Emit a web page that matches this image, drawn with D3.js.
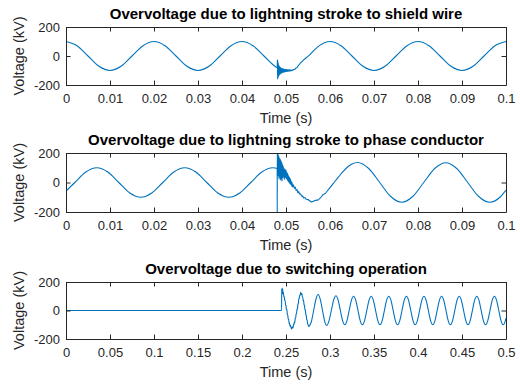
<!DOCTYPE html>
<html>
<head>
<meta charset="utf-8">
<script src="https://cdn.jsdelivr.net/npm/d3@7"></script>
<style>
    body { margin: 0; background: #fff; }
    svg { display: block; font-family: Arial, 'Liberation Sans', sans-serif; }
</style>
</head>
<body>
<svg id="figura"></svg>
<script>
// titulos e rotulos
const titulos = [
    'Overvoltage due to lightning stroke to shield wire',
    'Overvoltage due to lightning stroke to phase conductor',
    'Overvoltage due to switching operation'
]
const rotuloX = 'Time (s)'
const rotuloY = 'Voltage (kV)'

// ticks
const ticksY = [-200, 0, 200]
const ticksRaio = [0, 0.01, 0.02, 0.03, 0.04, 0.05, 0.06, 0.07, 0.08, 0.09, 0.1]
const ticksManobra = [0, 0.05, 0.1, 0.15, 0.2, 0.25, 0.3, 0.35, 0.4, 0.45, 0.5]

// [tempo (s), tensao (kV)]
const cabo = [
    [0, 100], [0.0025, 71], [0.005, 0], [0.0075, -71], [0.01, -100], [0.0125, -71], [0.015, 0], [0.0175, 71],
    [0.02, 100], [0.0225, 71], [0.025, 0], [0.0275, -71], [0.03, -100], [0.0325, -71], [0.035, 0], [0.0375, 71],
    [0.04, 100], [0.0425, 71], [0.045, 0], [0.0475, -71], [0.048, -81],
    [0.04805, -25], [0.0481, -160], [0.04815, -35], [0.0482, -150], [0.04825, -50], [0.0483, -142], [0.04835, -62],
    [0.0484, -135], [0.04845, -70], [0.0485, -130], [0.0486, -75], [0.0487, -125], [0.0488, -80], [0.0489, -120],
    [0.049, -84], [0.0491, -117], [0.0492, -87], [0.0493, -114], [0.0494, -89], [0.0495, -112], [0.0496, -91],
    [0.0497, -110], [0.0498, -92], [0.0499, -108], [0.05, -93], [0.0501, -107], [0.0502, -94], [0.0503, -106],
    [0.0504, -95], [0.0505, -105], [0.0506, -95], [0.0507, -104], [0.0508, -96], [0.0509, -103], [0.051, -97],
    [0.0511, -102], [0.0512, -97], [0.0513, -101], [0.0514, -96], [0.0516, -98], [0.0518, -92], [0.052, -93],
    [0.0522, -84], [0.0525, -80], [0.0528, -66], [0.053, -60], [0.0533, -47], [0.0537, -37], [0.054, -27],
    [0.055, -3], [0.0575, 70], [0.06, 100], [0.0625, 71], [0.065, 0], [0.0675, -71], [0.07, -100], [0.0725, -71],
    [0.075, 0], [0.0775, 71], [0.08, 100], [0.0825, 71], [0.085, 0], [0.0875, -71], [0.09, -100], [0.0925, -71],
    [0.095, 0], [0.0975, 71], [0.1, 100]
]

const fase = [
    [0, -59], [0.002, 0], [0.0045, 71], [0.007, 100], [0.0095, 71], [0.012, 0], [0.0145, -71], [0.017, -100],
    [0.0195, -71], [0.022, 0], [0.0245, 71], [0.027, 100], [0.0295, 71], [0.032, 0], [0.0345, -71], [0.037, -100],
    [0.0395, -71], [0.042, 0], [0.0445, 71], [0.047, 100], [0.048, 95],
    [0.04801, -260], [0.04802, 240], [0.04808, 70], [0.04815, 195], [0.0482, 45], [0.04825, 188], [0.0483, 50],
    [0.04835, 180], [0.0484, 25], [0.04845, 170], [0.0485, 40], [0.04855, 165], [0.0486, 35], [0.04865, 160],
    [0.0487, 15], [0.04875, 155], [0.0488, 30], [0.04885, 148], [0.0489, 20], [0.04895, 142], [0.049, 35],
    [0.04905, 135], [0.0491, 10], [0.04915, 125], [0.0492, 30], [0.04925, 118], [0.0493, 40], [0.0494, 110],
    [0.0495, 30], [0.0496, 95], [0.0497, 20], [0.0498, 90], [0.0499, 35], [0.05, 85], [0.0501, 25], [0.0502, 70],
    [0.0503, 15], [0.0504, 60], [0.0505, 5], [0.0506, 45], [0.0507, 0], [0.0508, 35], [0.0509, -10], [0.051, 25],
    [0.0511, -15], [0.0512, 10], [0.0513, -25], [0.0514, 0], [0.0515, -30], [0.0517, -15], [0.0519, -40],
    [0.0521, -30], [0.0523, -55], [0.0525, -48], [0.0527, -70], [0.0529, -62], [0.0531, -80], [0.0533, -76],
    [0.0536, -95], [0.0538, -90], [0.054, -105], [0.0543, -102], [0.0546, -114], [0.055, -116], [0.0555, -127],
    [0.0558, -132], [0.0562, -127], [0.0567, -121], [0.0573, -118], [0.0578, -105], [0.0584, -83], [0.059, -72],
    [0.0596, -49], [0.0604, -20], [0.0611, 7], [0.062, 40], [0.063, 75], [0.064, 105], [0.065, 126], [0.0663, 136],
    [0.0688, 95], [0.0713, 0], [0.0738, -95], [0.0763, -134], [0.0788, -95], [0.0813, 0], [0.0838, 95],
    [0.0863, 134], [0.0888, 95], [0.0913, 0], [0.0938, -95], [0.0963, -134], [0.0988, -95], [0.1, -52]
]

const manobra = [
    [0, 0], [0.245, 0], [0.2451, 152], [0.2454, 110], [0.2457, 158], [0.246, 120], [0.2463, 148], [0.2466, 118],
    [0.247, 128], [0.2475, 100], [0.248, 96], [0.2485, 70], [0.249, 72], [0.2495, 38], [0.25, 35], [0.2505, 4],
    [0.251, 7], [0.2515, -30], [0.252, -28], [0.2525, -62], [0.253, -60], [0.2535, -92], [0.254, -86],
    [0.2545, -110], [0.255, -104], [0.2558, -122], [0.2565, -130], [0.2572, -114], [0.258, -122], [0.2585, -98],
    [0.259, -100], [0.2595, -80], [0.26, -85], [0.2605, -55], [0.261, -52], [0.2615, -22], [0.262, -22],
    [0.2625, 10], [0.263, 12], [0.2635, 42], [0.264, 48], [0.2645, 80], [0.265, 84], [0.2655, 102], [0.266, 109],
    [0.2667, 127], [0.2674, 112], [0.2681, 119], [0.2685, 96], [0.269, 96], [0.2695, 68], [0.27, 72], [0.2705, 40],
    [0.271, 38], [0.2715, 6], [0.272, 4], [0.2725, -30], [0.273, -34], [0.2735, -64], [0.274, -66], [0.2745, -92],
    [0.275, -96], [0.2755, -110], [0.2761, -112], [0.277, -104], [0.2788, -79], [0.2814, 0], [0.284, 79],
    [0.2867, 112], [0.2891, 75], [0.2915, 0], [0.2939, -74], [0.2962, -105], [0.2988, -74], [0.3015, 0],
    [0.3042, 74], [0.3068, 104],
    [0.3093, 71], [0.3118, 0], [0.3143, -71], [0.3168, -100], [0.3193, -71], [0.3218, 0], [0.3243, 71],
    [0.3268, 100], [0.3293, 71], [0.3318, 0], [0.3343, -71], [0.3368, -100], [0.3393, -71], [0.3418, 0], [0.3443, 71],
    [0.3468, 100], [0.3493, 71], [0.3518, 0], [0.3543, -71], [0.3568, -100], [0.3593, -71], [0.3618, 0], [0.3643, 71],
    [0.3668, 100], [0.3693, 71], [0.3718, 0], [0.3743, -71], [0.3768, -100], [0.3793, -71], [0.3818, 0], [0.3843, 71],
    [0.3868, 100], [0.3893, 71], [0.3918, 0], [0.3943, -71], [0.3968, -100], [0.3993, -71], [0.4018, 0], [0.4043, 71],
    [0.4068, 100], [0.4093, 71], [0.4118, 0], [0.4143, -71], [0.4168, -100], [0.4193, -71], [0.4218, 0], [0.4243, 71],
    [0.4268, 100], [0.4293, 71], [0.4318, 0], [0.4343, -71], [0.4368, -100], [0.4393, -71], [0.4418, 0], [0.4443, 71],
    [0.4468, 100], [0.4493, 71], [0.4518, 0], [0.4543, -71], [0.4568, -100], [0.4593, -71], [0.4618, 0], [0.4643, 71],
    [0.4668, 100], [0.4693, 71], [0.4718, 0], [0.4743, -71], [0.4768, -100], [0.4793, -71], [0.4818, 0], [0.4843, 71],
    [0.4868, 100], [0.4893, 71], [0.4918, 0], [0.4943, -71], [0.4968, -100], [0.4993, -71], [0.5, -54]
]

const largura = 520
const altura = 386
const corEixo = '#262626'
const corLinha = '#0072BD'

let svg = d3
    .select('#figura')
    .attr('width', largura)
    .attr('height', altura)

let margem = { esquerda: 66, direita: 506 }

function Painel(p) {
    let g = svg.append('g')

    let fnX = d3
        .scaleLinear()
        .domain([p.ticksX[0], p.ticksX[p.ticksX.length - 1]])
        .range([margem.esquerda, margem.direita])

    let fnY = d3
        .scaleLinear()
        .domain([-200, 200])
        .range([p.inferior, p.superior])

    g.append('clipPath')
        .attr('id', 'clip' + p.id)
        .append('rect')
        .attr('x', margem.esquerda)
        .attr('y', p.superior)
        .attr('width', margem.direita - margem.esquerda)
        .attr('height', p.inferior - p.superior)

    let linha = d3
        .line()
        .x((d) => fnX(d[0]))
        .y((d) => fnY(d[1]))
        .curve(d3.curveMonotoneX)

    g.append('path')
        .datum(p.dados)
        .attr('clip-path', 'url(#clip' + p.id + ')')
        .attr('fill', 'none')
        .attr('stroke', corLinha)
        .attr('stroke-width', 1.1)
        .attr('d', linha)

    let fmt = (d) => String(d)

    // eixos com ticks para dentro, estilo matlab
    let eixos = [
        { ax: d3.axisBottom(fnX).tickValues(p.ticksX).tickFormat(fmt).tickPadding(8.5), t: 'translate(0,' + p.inferior + ')' },
        { ax: d3.axisTop(fnX).tickValues(p.ticksX).tickFormat(''), t: 'translate(0,' + p.superior + ')' },
        { ax: d3.axisLeft(fnY).tickValues(ticksY).tickFormat(fmt).tickPadding(6), t: 'translate(' + margem.esquerda + ',0)' },
        { ax: d3.axisRight(fnY).tickValues(ticksY).tickFormat(''), t: 'translate(' + margem.direita + ',0)' }
    ]
    eixos.forEach((e) => {
        let a = g.append('g')
            .attr('transform', e.t)
            .call(e.ax.tickSizeInner(-4.5).tickSizeOuter(0))
        a.attr('font-size', 13).attr('font-family', null)
        a.selectAll('path, line').attr('stroke', corEixo)
        a.selectAll('text').attr('fill', corEixo)
    })

    g.append('text')
        .attr('x', (margem.esquerda + margem.direita) / 2)
        .attr('y', p.superior - 8)
        .style('text-anchor', 'middle')
        .attr('font-size', 15)
        .attr('font-weight', 'bold')
        .attr('fill', '#000')
        .text(p.titulo)

    g.append('text')
        .attr('x', (margem.esquerda + margem.direita) / 2)
        .attr('y', p.inferior + 38)
        .style('text-anchor', 'middle')
        .attr('font-size', 14.5)
        .attr('fill', corEixo)
        .text(rotuloX)

    g.append('text')
        .attr('transform', 'translate(24,' + (p.superior + p.inferior) / 2 + ') rotate(-90)')
        .style('text-anchor', 'middle')
        .attr('font-size', 14.5)
        .attr('fill', corEixo)
        .text(rotuloY)
}

new Painel({ id: 1, dados: cabo, ticksX: ticksRaio, superior: 27, inferior: 85, titulo: titulos[0] })
new Painel({ id: 2, dados: fase, ticksX: ticksRaio, superior: 153, inferior: 212, titulo: titulos[1] })
new Painel({ id: 3, dados: manobra, ticksX: ticksManobra, superior: 282, inferior: 339, titulo: titulos[2] })
</script>
</body>
</html>
